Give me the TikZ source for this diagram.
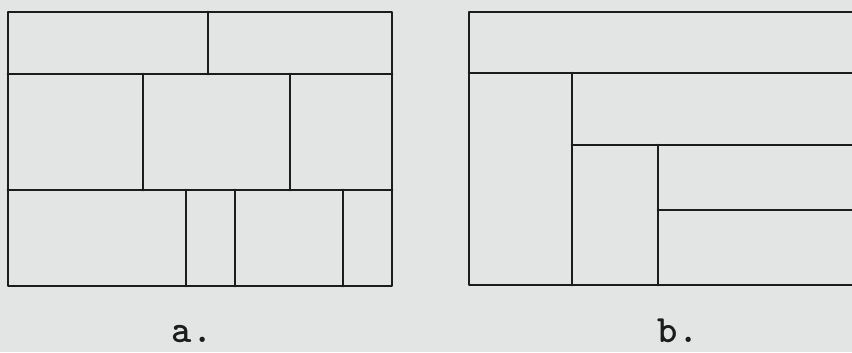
\documentclass[tikz,border=0pt]{standalone}
\usepackage{xcolor}
\usepackage{tikz}
\usetikzlibrary{positioning}
\definecolor{paper}{RGB}{226,229,228}
\definecolor{ink}{RGB}{28,28,28}

\begin{document}
\begin{tikzpicture}[
    x=0.03cm, y=-0.03cm,
    wall/.style={draw=ink, line width=2.3pt, line cap=round, line join=round},
    panellabel/.style={anchor=base, inner sep=0pt, font=\fontsize{33}{35}\selectfont\ttfamily\bfseries, text=ink},
]
% Paper
\fill[paper] (0,0) rectangle (852,352);
\useasboundingbox (0,0) rectangle (852,352);

% Panel a: frame and rows
\draw[wall] (8,12) rectangle (392,286);
\draw[wall] (8,74) -- (392,74);
\draw[wall] (8,190) -- (392,190);

% Panel a: cuts in each row
\draw[wall] (208,12) -- (208,74);
\draw[wall] (143,74) -- (143,190);
\draw[wall] (290,74) -- (290,190);
\draw[wall] (186,190) -- (186,286);
\draw[wall] (235,190) -- (235,286);
\draw[wall] (343,190) -- (343,286);

% Panel b (runs off the right edge)
\draw[wall] (852,12) -- (469,12) -- (469,285) -- (852,285);
\draw[wall] (469,73) -- (852,73);
\draw[wall] (572,73) -- (572,285);
\draw[wall] (572,145) -- (852,145);
\draw[wall] (658,145) -- (658,285);
\draw[wall] (658,210) -- (852,210);

% Labels
\node[panellabel] (labela) at (192,342) {a.};
\node[panellabel] (labelb) at (678,342) {b.};
\end{tikzpicture}
\end{document}
